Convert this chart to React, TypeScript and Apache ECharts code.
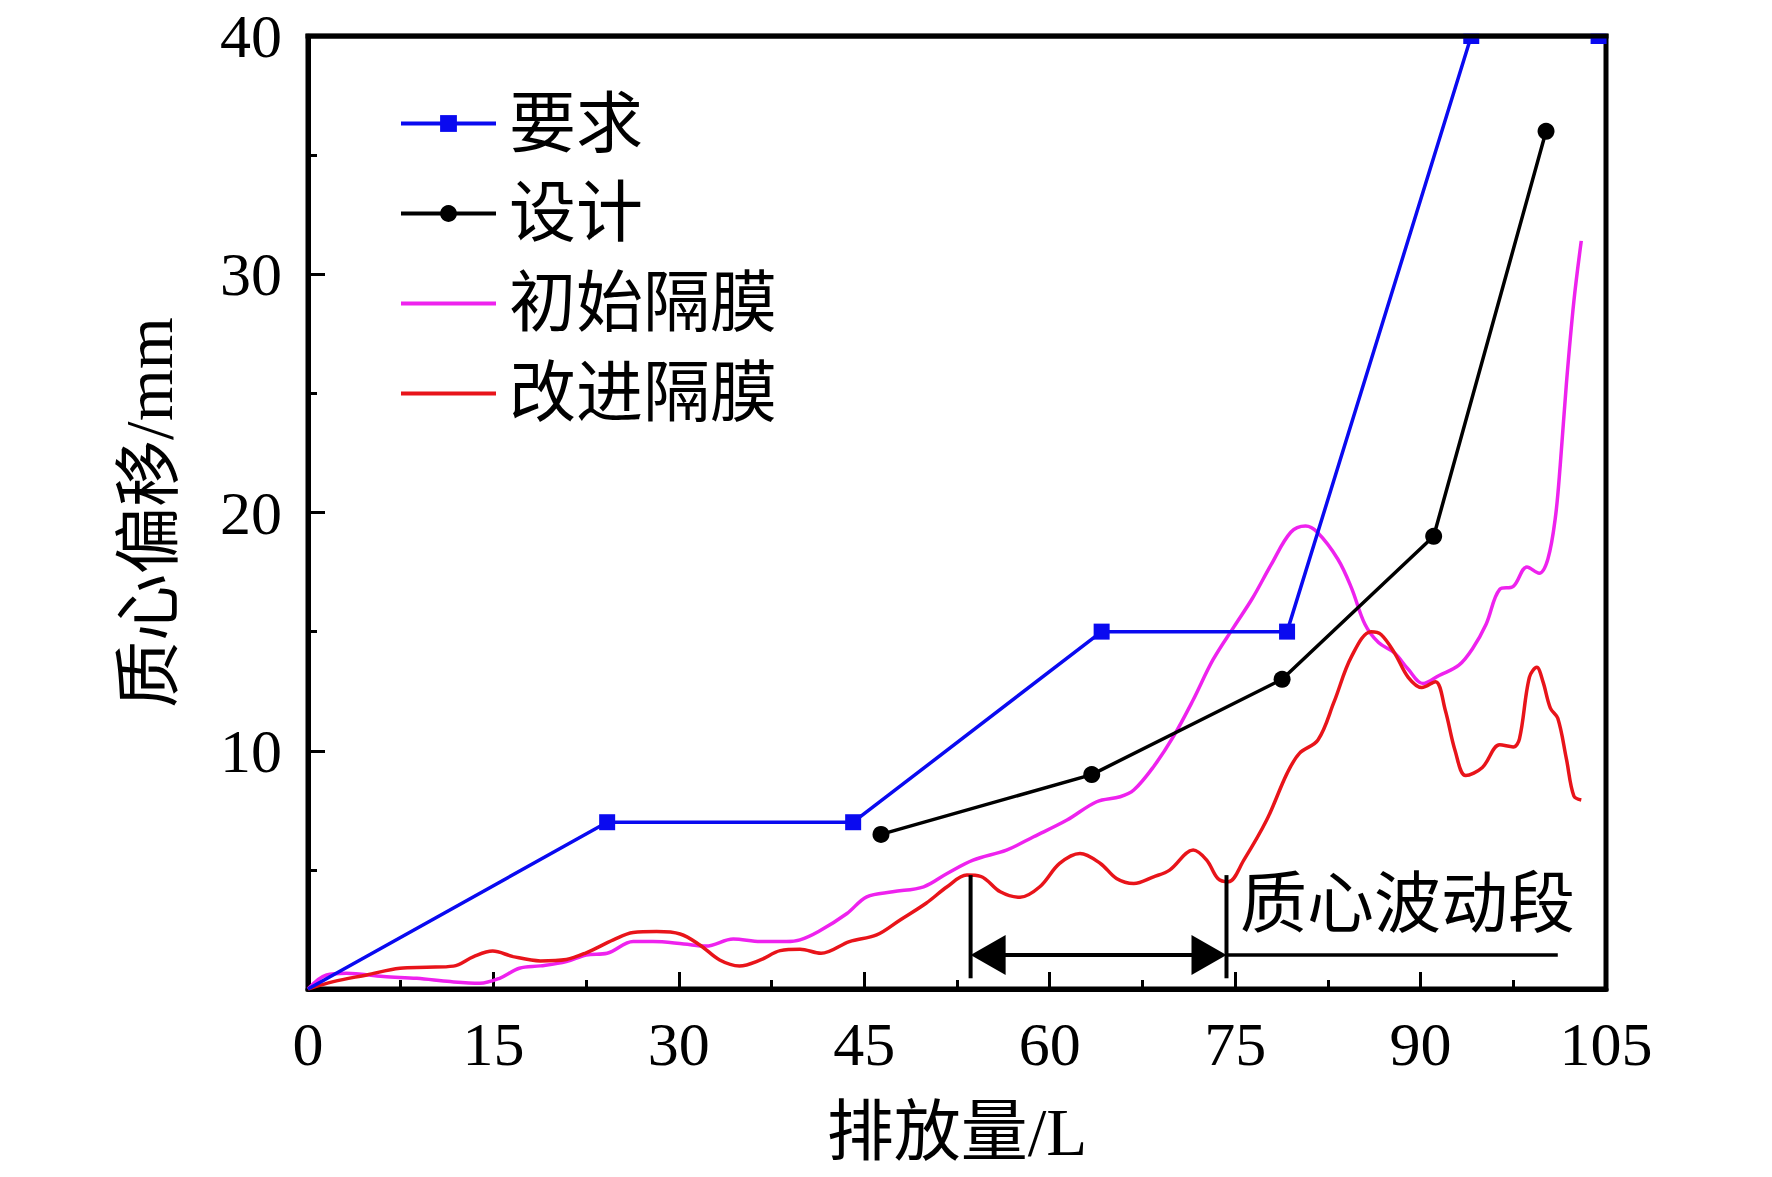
import React, { useEffect, useRef } from "react";
import * as echarts from "echarts";

// ---- data ----
const xTicks = { min: 0, max: 105, interval: 15 };
const yTicks = { min: 0, max: 40, interval: 10 };

const reqX = [0, 24.2, 44.1, 64.2, 79.2, 94.1, 104.4];
const reqY = [0, 7, 7, 15, 15, 40, 40];

const desX = [46.35, 63.4, 78.8, 91.06, 100.15];
const desY = [6.49, 9.0, 13.0, 19.0, 36.0];

const initX = [0, 1.5, 3.1, 6.1, 8.8, 11.5, 13.9, 15.5, 17.1, 18.8, 20.9, 22.5, 24.2, 26.3, 27.9, 30.4, 32.2, 34.4, 36.6, 38.7, 39.8, 41.3, 43.6, 45.2, 47.3, 49.8, 51.7, 53.8, 56.5, 58.7, 61.4, 63.8, 65.7, 66.8, 68.4, 70.0, 71.6, 73.2, 74.9, 76.4, 77.9, 79.5, 80.7, 81.65, 83.3, 84.4, 85.5, 86.6, 87.9, 89.0, 90.2, 91.5, 93.1, 94.2, 95.3, 96.4, 97.5, 98.6, 99.6, 100.3, 100.9, 101.3, 101.8, 102.4, 103.0];
const initY = [0, 0.59, 0.66, 0.52, 0.45, 0.31, 0.24, 0.45, 0.87, 0.97, 1.15, 1.43, 1.5, 1.99, 1.99, 1.89, 1.8, 2.1, 1.99, 1.99, 2.06, 2.41, 3.17, 3.87, 4.08, 4.29, 4.85, 5.41, 5.83, 6.39, 7.09, 7.86, 8.07, 8.35, 9.33, 10.59, 12.13, 13.81, 15.2, 16.4, 17.8, 19.17, 19.43, 19.17, 18.05, 16.85, 15.31, 14.54, 14.1, 13.42, 12.82, 13.16, 13.59, 14.28, 15.31, 16.77, 16.9, 17.71, 17.45, 18.05, 19.77, 22.0, 25.43, 28.86, 31.4];

const impX = [0, 2.05, 4.75, 7.44, 9.6, 11.76, 13.4, 14.94, 16.6, 18.8, 20.9, 22.5, 24.7, 26.3, 28.2, 30.1, 31.7, 33.3, 34.9, 36.6, 38.2, 39.8, 41.5, 43.8, 46.0, 47.9, 50.0, 51.7, 53.3, 54.4, 56.0, 57.6, 59.2, 60.8, 62.45, 64.1, 65.4, 66.8, 68.4, 69.7, 71.6, 72.7, 73.6, 74.45, 75.7, 77.55, 79.2, 80.2, 81.7, 83.0, 84.4, 86.0, 86.8, 87.9, 89.0, 90.1, 91.2, 92.0, 92.8, 93.65, 95.0, 96.4, 97.5, 98.0, 98.8, 99.4, 99.9, 100.5, 101.1, 101.8, 102.4, 103.0];
const impY = [0, 0.31, 0.59, 0.87, 0.91, 0.96, 1.36, 1.59, 1.36, 1.18, 1.24, 1.52, 2.06, 2.37, 2.41, 2.31, 1.85, 1.22, 0.97, 1.22, 1.61, 1.67, 1.5, 1.99, 2.27, 2.9, 3.6, 4.29, 4.78, 4.73, 4.08, 3.85, 4.29, 5.27, 5.69, 5.27, 4.64, 4.43, 4.71, 4.99, 5.83, 5.41, 4.64, 4.5, 5.41, 7.09, 9.05, 9.89, 10.45, 12.05, 13.94, 15.0, 14.88, 14.1, 13.08, 12.65, 12.9, 11.7, 9.99, 8.96, 9.3, 10.25, 10.16, 10.5, 13.08, 13.5, 12.9, 11.79, 11.36, 9.65, 8.1, 7.93];

// annotation: [xStart, xEnd, yTop, yBottom, yArrow, xLineEnd, xText, yText]
const annotation = [53.6, 74.3, 4.78, 0.45, 1.43, 101.1, 75.4, 3.55];
const annotationText = "质心波动段";

const seriesNames = ["要求", "设计", "初始隔膜", "改进隔膜"];
const xName = "排放量/L";
const yName = "质心偏移/mm";

const FONT = "'Liberation Serif', 'Noto Sans CJK SC', serif";
const NUM_SIZE = 62;
const CJK_SIZE = 67;

const zip = (xs: number[], ys: number[]) => xs.map((x, i) => [x, ys[i]]);

export default function App() {
  const ref = useRef<HTMLDivElement>(null);
  useEffect(() => {
    if (!ref.current) return;
    const chart = echarts.init(ref.current, null, { renderer: "svg" });
    const reqData = zip(reqX, reqY).map((p, i) =>
      i === 0 ? { value: p, symbol: "none" } : { value: p }
    );
    const gridLeft = 308;
    const gridTop = 36;
    const gridRight = 166;
    const gridBottom = 188;
    const W = 1772;
    const option: any = {
      animation: false,
      backgroundColor: "#fff",
      grid: {
        left: gridLeft,
        top: gridTop,
        right: gridRight,
        bottom: gridBottom,
        show: true,
        borderColor: "#000",
        borderWidth: 5,
        backgroundColor: "transparent",
      },
      // top frame drawn above the series so the markers at y=40 look clipped
      graphic: [
        {
          type: "rect",
          z: 100,
          silent: true,
          shape: { x: gridLeft - 8, y: 0, width: W - gridLeft - gridRight + 16, height: gridTop - 2.5 },
          style: { fill: "#fff" },
        },
        {
          type: "rect",
          z: 101,
          silent: true,
          shape: { x: gridLeft - 2.5, y: gridTop - 2.5, width: W - gridLeft - gridRight + 5, height: 5 },
          style: { fill: "#000" },
        },
      ],
      legend: {
        show: true,
        orient: "vertical",
        left: 394,
        top: 85,
        itemWidth: 95,
        itemHeight: 21,
        itemGap: 23,
        lineStyle: { width: 4 },
        data: [
          { name: seriesNames[0] },
          { name: seriesNames[1] },
          { name: seriesNames[2], itemStyle: { opacity: 0 } },
          { name: seriesNames[3], itemStyle: { opacity: 0 } },
        ],
        textStyle: {
          fontSize: CJK_SIZE,
          color: "#000",
          fontFamily: FONT,
          padding: [0, 0, 0, 8],
        },
      },
      xAxis: {
        type: "value",
        min: xTicks.min,
        max: xTicks.max,
        interval: xTicks.interval,
        name: xName,
        nameLocation: "middle",
        nameGap: 109,
        nameTextStyle: { fontSize: CJK_SIZE, color: "#000", fontFamily: FONT },
        axisLine: { show: true, lineStyle: { color: "#000", width: 5 } },
        axisTick: { show: true, inside: true, length: 17, lineStyle: { color: "#000", width: 3 } },
        minorTick: { show: true, splitNumber: 2, length: 9, lineStyle: { color: "#000", width: 3 } },
        splitLine: { show: false },
        axisLabel: { fontSize: NUM_SIZE, color: "#000", fontFamily: FONT, margin: 24 },
      },
      yAxis: {
        type: "value",
        min: yTicks.min,
        max: yTicks.max,
        interval: yTicks.interval,
        name: yName,
        nameLocation: "middle",
        nameGap: 126,
        nameTextStyle: { fontSize: CJK_SIZE, color: "#000", fontFamily: FONT },
        axisLine: { show: true, lineStyle: { color: "#000", width: 5 } },
        axisTick: { show: true, inside: true, length: 17, lineStyle: { color: "#000", width: 3 } },
        minorTick: { show: true, splitNumber: 2, length: 9, lineStyle: { color: "#000", width: 3 } },
        splitLine: { show: false },
        axisLabel: {
          fontSize: NUM_SIZE,
          color: "#000",
          fontFamily: FONT,
          margin: 26,
          formatter: (v: number) => (v === 0 ? "" : String(v)),
        },
      },
      series: [
        {
          name: seriesNames[0],
          type: "line",
          data: reqData,
          symbol: "rect",
          symbolSize: 16,
          color: "#0a0af0",
          lineStyle: { color: "#0a0af0", width: 3.5 },
          itemStyle: { color: "#0a0af0" },
          z: 3,
        },
        {
          name: seriesNames[1],
          type: "line",
          data: zip(desX, desY),
          symbol: "circle",
          symbolSize: 17,
          color: "#000",
          lineStyle: { color: "#000", width: 3.5 },
          itemStyle: { color: "#000" },
          z: 3,
        },
        {
          name: seriesNames[2],
          type: "line",
          data: zip(initX, initY),
          symbol: "none",
          smooth: 0.35,
          color: "#ee22ee",
          lineStyle: { color: "#ee22ee", width: 3.5 },
          z: 2,
        },
        {
          name: seriesNames[3],
          type: "line",
          data: zip(impX, impY),
          symbol: "none",
          smooth: 0.35,
          color: "#e8141a",
          lineStyle: { color: "#e8141a", width: 3.5 },
          z: 2,
        },
        {
          name: "annotation",
          type: "custom",
          silent: true,
          z: 4,
          data: [annotation],
          renderItem: (params: any, api: any) => {
            const [x1, x2, yT, yB, yA, xE, xt, yt] = [0, 1, 2, 3, 4, 5, 6, 7].map((i) => api.value(i));
            const t1 = api.coord([x1, yT]);
            const b1 = api.coord([x1, yB]);
            const t2 = api.coord([x2, yT]);
            const b2 = api.coord([x2, yB]);
            const a1 = api.coord([x1, yA]);
            const a2 = api.coord([x2, yA]);
            const ae = api.coord([xE, yA]);
            const pt = api.coord([xt, yt]);
            const L = 35;
            const H = 20;
            const stroke = { stroke: "#000", lineWidth: 4 };
            return {
              type: "group",
              children: [
                { type: "line", shape: { x1: t1[0], y1: t1[1], x2: b1[0], y2: b1[1] }, style: stroke },
                { type: "line", shape: { x1: t2[0], y1: t2[1], x2: b2[0], y2: b2[1] }, style: stroke },
                { type: "line", shape: { x1: a1[0] + L - 2, y1: a1[1], x2: a2[0] - L + 2, y2: a2[1] }, style: stroke },
                { type: "line", shape: { x1: a2[0], y1: a2[1], x2: ae[0], y2: ae[1] }, style: { stroke: "#000", lineWidth: 3.5 } },
                {
                  type: "polygon",
                  shape: { points: [[a1[0], a1[1]], [a1[0] + L, a1[1] - H], [a1[0] + L, a1[1] + H]] },
                  style: { fill: "#000" },
                },
                {
                  type: "polygon",
                  shape: { points: [[a2[0], a2[1]], [a2[0] - L, a2[1] - H], [a2[0] - L, a2[1] + H]] },
                  style: { fill: "#000" },
                },
                {
                  type: "text",
                  x: pt[0],
                  y: pt[1],
                  style: {
                    text: annotationText,
                    fontSize: CJK_SIZE,
                    fill: "#000",
                    fontFamily: FONT,
                    align: "left",
                    verticalAlign: "middle",
                  },
                },
              ],
            };
          },
        },
      ],
    };
    chart.setOption(option);
    return () => chart.dispose();
  }, []);
  return (
    <div
      ref={ref}
      style={{ position: "fixed", left: 0, top: 0, width: 1772, height: 1177, background: "#fff" }}
    />
  );
}
